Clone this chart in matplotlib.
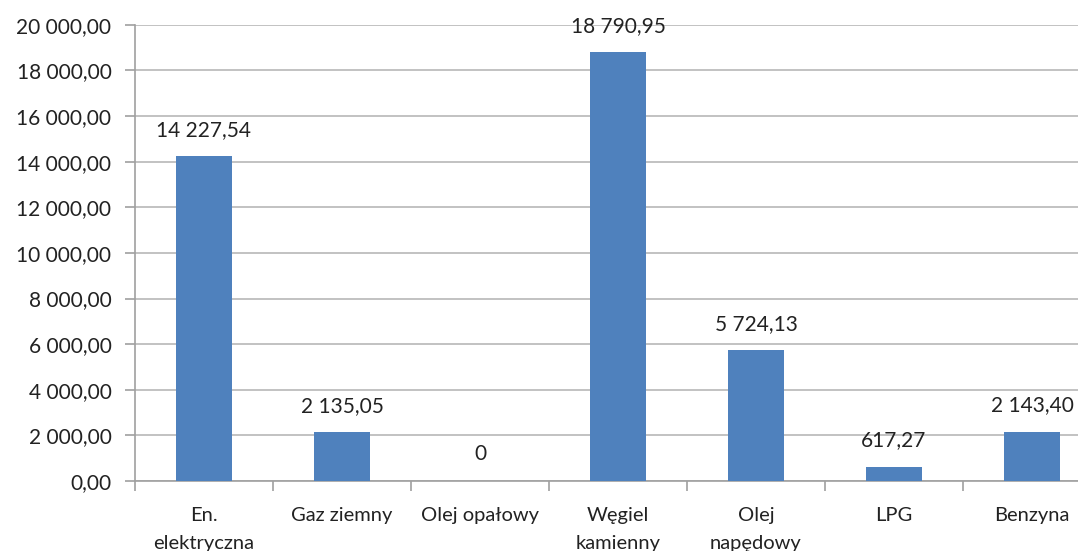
import matplotlib
matplotlib.use("Agg")
import matplotlib.pyplot as plt
from matplotlib.ticker import FuncFormatter, MultipleLocator, FixedLocator
import numpy as np

categories = ["En.\nelektryczna", "Gaz ziemny", "Olej opałowy", "Węgiel\nkamienny",
              "Olej\nnapędowy", "LPG", "Benzyna"]
values = [14227.54, 2135.05, 0.0, 18790.95, 5724.13, 617.27, 2143.40]
value_labels = ["14 227,54", "2 135,05", "0", "18 790,95", "5 724,13", "617,27", "2 143,40"]

plt.rcParams['font.family'] = ['Lato', 'DejaVu Sans']

fig = plt.figure(figsize=(10.78, 5.51), dpi=100)
ax = fig.add_axes([135 / 1078, 0.127, 966 / 1078, 0.828])

x = np.arange(len(categories))
ax.bar(x, values, width=0.40, color="#4F81BD", zorder=3)

ax.set_xlim(-0.5, len(categories) - 0.5)
ax.set_ylim(0, 20000)
ax.yaxis.set_major_locator(MultipleLocator(2000))

def fmt(v, pos):
    s = f"{v:,.2f}".replace(",", " ").replace(".", ",")
    return s
ax.yaxis.set_major_formatter(FuncFormatter(fmt))

ax.grid(axis="y", color="#B8B8B8", linewidth=1.2, zorder=0)
for s in ["top", "right"]:
    ax.spines[s].set_visible(False)
for s in ["left", "bottom"]:
    ax.spines[s].set_color("#A0A0A0")
    ax.spines[s].set_linewidth(1.2)

ax.tick_params(axis="y", length=7, color="#A0A0A0", width=1.2, labelsize=15, labelcolor="#222222", pad=10)
ax.set_xticks(x)
ax.set_xticklabels(categories, fontsize=14.5, color="#222222", linespacing=1.75)
ax.tick_params(axis="x", length=0, pad=19)
# category separators
ax.xaxis.set_minor_locator(FixedLocator(np.arange(-0.5, len(categories), 1.0)))
ax.tick_params(axis="x", which="minor", length=7, color="#A0A0A0", width=1.2)

for xi, v, lab in zip(x, values, value_labels):
    ax.annotate(lab, (xi, v), xytext=(0, 12), textcoords="offset points",
                ha="center", va="bottom", fontsize=15, color="#222222")

fig.savefig("out.png", dpi=100)
